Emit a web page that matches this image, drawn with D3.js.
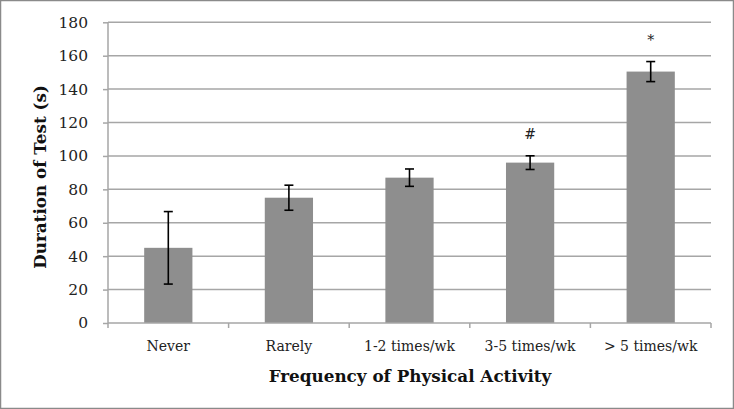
<!DOCTYPE html>
<html><head><meta charset="utf-8">
<script src="https://cdn.jsdelivr.net/npm/d3@7"></script>
<style>body{margin:0;background:#fff}svg{display:block}</style>
</head><body>
<script>
const categories = ["Never", "Rarely", "1-2 times/wk", "3-5 times/wk", "> 5 times/wk"];
const values = [45, 75, 87, 96, 150.5];
const errors = [21.7, 7.5, 5.2, 4.1, 6];
const marks = ["", "", "", "#", "*"];
const yTicks = [0, 20, 40, 60, 80, 100, 120, 140, 160, 180];

(function () {
const W = 734, H = 409;
const svg = d3.select("body").append("svg").attr("width", W).attr("height", H);
svg.append("rect").attr("x", 0.5).attr("y", 0.5).attr("width", W - 1).attr("height", H - 1)
  .attr("fill", "#fff").attr("stroke", "#8a8a8a").attr("stroke-width", 1.5);

const mLeft = 108, mRight = 711, mTop = 22.3, mBottom = 323;
const x = d3.scaleBand().domain(categories).range([mLeft, mRight]).paddingInner(0.6).paddingOuter(0.3);
const xb = d3.scaleBand().domain(categories).range([mLeft, mRight]);
const y = d3.scaleLinear().domain([0, 180]).range([mBottom, mTop]);
const font = "'DejaVu Serif', 'Liberation Serif', serif";

// gridlines
svg.append("g").selectAll("line").data(yTicks.filter(d => d > 0)).join("line")
  .attr("x1", mLeft).attr("x2", mRight).attr("y1", d => y(d)).attr("y2", d => y(d))
  .attr("stroke", "#a6a6a6").attr("stroke-width", 1.5);

// bars
svg.append("g").selectAll("rect").data(categories).join("rect")
  .attr("x", d => x(d)).attr("width", x.bandwidth())
  .attr("y", (d, i) => y(values[i])).attr("height", (d, i) => y(0) - y(values[i]))
  .attr("fill", "#8e8e8e");

// error bars
const eb = svg.append("g").attr("stroke", "#000").attr("stroke-width", 1.6);
categories.forEach((c, i) => {
  const cx = x(c) + x.bandwidth() / 2;
  const hi = y(values[i] + errors[i]), lo = y(values[i] - errors[i]);
  eb.append("line").attr("x1", cx).attr("x2", cx).attr("y1", hi).attr("y2", lo);
  eb.append("line").attr("x1", cx - 4.5).attr("x2", cx + 4.5).attr("y1", hi).attr("y2", hi);
  eb.append("line").attr("x1", cx - 4.5).attr("x2", cx + 4.5).attr("y1", lo).attr("y2", lo);
  if (marks[i]) {
    svg.append("text").attr("x", cx).attr("y", y(values[i] + errors[i]) - 17)
      .attr("text-anchor", "middle").attr("font-family", font).attr("font-size", 14)
      .attr("fill", "#222").text(marks[i]);
  }
});

// y axis
const yAxis = d3.axisLeft(y).tickValues(yTicks).tickSize(5).tickPadding(15);
const gy = svg.append("g").attr("transform", `translate(${mLeft},0)`).call(yAxis);
gy.select(".domain").attr("stroke", "#a6a6a6").attr("stroke-width", 1.5).attr("d", `M0,${mTop}V${mBottom}`);
gy.selectAll(".tick line").attr("stroke", "#a6a6a6").attr("stroke-width", 1.5);
gy.selectAll("text").attr("font-family", font).attr("font-size", 15.5).attr("fill", "#222");

// x axis
const gx = svg.append("g").attr("transform", `translate(0,${mBottom})`);
gx.append("line").attr("x1", mLeft).attr("x2", mRight).attr("stroke", "#a6a6a6").attr("stroke-width", 1.5);
const bounds = categories.map(c => xb(c)).concat([mRight]);
gx.selectAll("line.tk").data(bounds).join("line").attr("class", "tk")
  .attr("x1", d => d).attr("x2", d => d).attr("y1", 0).attr("y2", 5)
  .attr("stroke", "#a6a6a6").attr("stroke-width", 1.5);
gx.selectAll("text").data(categories).join("text")
  .attr("x", d => xb(d) + xb.bandwidth() / 2).attr("y", 28)
  .attr("text-anchor", "middle").attr("font-family", font).attr("font-size", 14).attr("fill", "#222")
  .text(d => d);

// titles
svg.append("text").attr("x", 410).attr("y", 382).attr("text-anchor", "middle")
  .attr("font-family", font).attr("font-size", 16.8).attr("font-weight", "bold").attr("fill", "#111")
  .text("Frequency of Physical Activity");
svg.append("text").attr("transform", `translate(46,177) rotate(-90)`).attr("text-anchor", "middle")
  .attr("font-family", font).attr("font-size", 16.8).attr("font-weight", "bold").attr("fill", "#111")
  .text("Duration of Test (s)");
})();
</script>
</body></html>
